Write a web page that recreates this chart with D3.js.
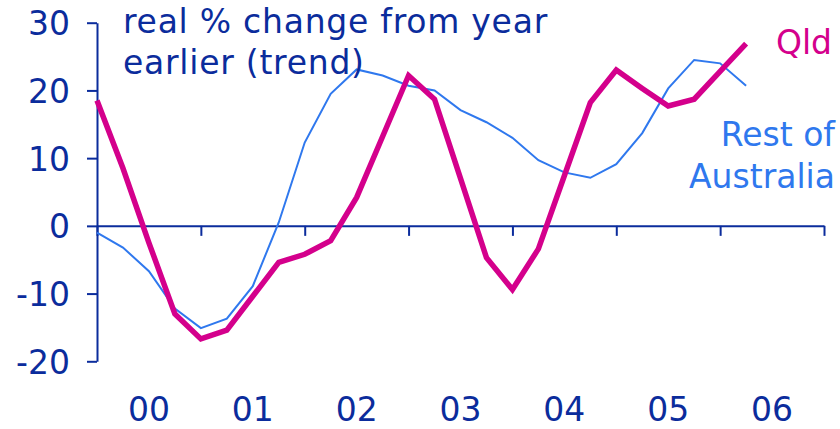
<!DOCTYPE html>
<html><head><meta charset="utf-8">
<script src="https://cdn.jsdelivr.net/npm/d3@7"></script>
<style>body{margin:0;background:#fff}svg{display:block}text{font-family:"DejaVu Sans",Verdana,sans-serif}</style>
</head><body>
<script>
const yearLabels = ["00","01","02","03","04","05","06"];
const yTicks = [-20,-10,0,10,20,30];
const qld = [18.5, 8.5, -2.5, -13.0, -16.7, -15.4, -10.4, -5.4, -4.2, -2.2, 4.2, 13.2, 22.2, 18.7, 7.0, -4.7, -9.4, -3.4, 7.4, 18.2, 23.0, 20.3, 17.7, 18.7, 22.8, 26.9];
const restOfAus = [-1.0, -3.2, -6.7, -12.2, -15.1, -13.7, -8.9, 0.5, 12.3, 19.5, 23.1, 22.2, 20.7, 20.0, 17.1, 15.3, 13.0, 9.7, 7.9, 7.1, 9.1, 13.7, 20.3, 24.5, 24.0, 20.7];
const titleLines = ["real % change from year","earlier (trend)"];

const W=840,H=429;
const navy="#0B2C9C", magenta="#D4008C", blue="#2F78EE";
const svg=d3.select("body").append("svg").attr("width",W).attr("height",H);
const x=d3.scaleLinear().domain([0,28]).range([97,824]);
const y=d3.scaleLinear().domain([-20,30]).range([361.3,22.7]);

// y axis
const yAxis=d3.axisLeft(y).tickValues(yTicks).tickSize(10).tickSizeOuter(0).tickPadding(17).tickFormat(d=>String(d));
const gy=svg.append("g").attr("transform","translate(97,0)").call(yAxis);
gy.select(".domain").attr("stroke",navy).attr("stroke-width",2);
gy.selectAll(".tick line").attr("stroke",navy).attr("stroke-width",2);
gy.selectAll(".tick text").attr("fill",navy).style("font-size","33px").attr("dy","0.36em");

// x axis at zero
const xTickIdx=d3.range(0,29,4);
const xAxis=d3.axisBottom(x).tickValues(xTickIdx).tickSize(10).tickSizeOuter(0).tickFormat("");
const gx=svg.append("g").attr("transform",`translate(0,${y(0)})`).call(xAxis);
gx.select(".domain").attr("stroke",navy).attr("stroke-width",2);
gx.selectAll(".tick line").attr("stroke",navy).attr("stroke-width",2);

// year labels
svg.append("g").selectAll("text").data(yearLabels).join("text")
  .attr("x",(d,i)=>x(i*4+2)).attr("y",421).attr("text-anchor","middle")
  .attr("fill",navy).style("font-size","33px").text(d=>d);

const line=d3.line().x((d,i)=>x(i)).y(d=>y(d));
svg.append("path").datum(restOfAus).attr("d",line).attr("fill","none").attr("stroke",blue).attr("stroke-width",2);
svg.append("path").datum(qld).attr("d",line).attr("fill","none").attr("stroke",magenta).attr("stroke-width",5.5).attr("stroke-linejoin","miter");

// title
svg.append("g").selectAll("text").data(titleLines).join("text")
  .attr("x",123).attr("y",(d,i)=>33+i*41).attr("fill",navy).style("font-size","33px")
  .style("letter-spacing","0.75px").text(d=>d);

// series labels
svg.append("text").attr("x",832).attr("y",54).attr("text-anchor","end").attr("fill",magenta).style("font-size","33px").text("Qld");
svg.append("text").attr("x",835).attr("y",146).attr("text-anchor","end").attr("fill",blue).style("font-size","33px").text("Rest of");
svg.append("text").attr("x",835).attr("y",188).attr("text-anchor","end").attr("fill",blue).style("font-size","33px").text("Australia");
</script>
</body></html>
